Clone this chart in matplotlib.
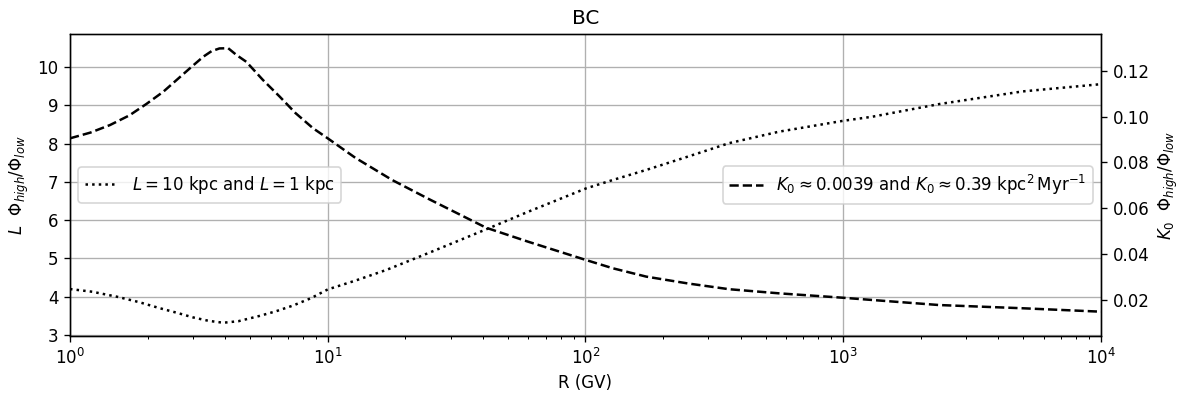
import numpy as np
import matplotlib
matplotlib.use('Agg')
import matplotlib.pyplot as plt

# rigidity points (GV)
R_L = [1.0, 1.22, 1.52, 1.85, 2.23, 2.6, 3.0, 3.45, 3.93, 4.5, 5.45, 6.3, 7.34, 8.6, 10.0,
       12.8, 16.9, 25, 41.2, 60, 100.7, 128, 172, 250, 361, 564, 993, 1297, 2355, 4955, 10000]
# Phi_high/Phi_low for L = 10 kpc vs 1 kpc (left axis)
ratio_L = [4.20, 4.13, 4.00, 3.86, 3.70, 3.58, 3.46, 3.37, 3.32, 3.36, 3.50, 3.62, 3.77, 3.96, 4.19,
           4.42, 4.70, 5.16, 5.76, 6.22, 6.83, 7.05, 7.31, 7.66, 8.01, 8.31, 8.59, 8.70, 9.03, 9.36, 9.55]

R_K = [1.0, 1.2, 1.43, 1.7, 1.98, 2.3, 2.59, 2.95, 3.29, 3.54, 3.8, 4.11, 4.43, 4.83, 5.6, 6.51,
       7.5, 8.77, 10.0, 12.8, 17.8, 25, 41.2, 60, 100.7, 128, 172, 250, 361, 564, 993, 1297,
       2355, 4955, 10000]
# Phi_high/Phi_low for the two K0 values (right axis)
ratio_K = [0.0905, 0.0930, 0.0963, 0.1005, 0.1055, 0.1108, 0.1159, 0.1215, 0.1261, 0.1285,
           0.1297, 0.1298, 0.1268, 0.1239, 0.1160, 0.1087, 0.1015, 0.0949, 0.0905, 0.0820,
           0.0723, 0.0637, 0.0515, 0.0454, 0.0374, 0.0338, 0.0302, 0.0272, 0.0247, 0.0229,
           0.0210, 0.0200, 0.0178, 0.0164, 0.0149]

fig, ax = plt.subplots(figsize=(1184 / 120, 399 / 120), dpi=120)
fig.subplots_adjust(left=0.0591, right=0.9299, top=0.9148, bottom=0.1579)

ax.plot(R_L, ratio_L, color='black', linestyle=':', label=r'$L = 10$ kpc and $L = 1$ kpc')
ax.set_xscale('log')
ax.set_xlim(1, 1e4)
ax.set_ylim(2.974, 10.86)
ax.grid(True, which='major', color='#b0b0b0')
ax.set_xlabel('R (GV)')
ax.set_ylabel(r'$L$  $\Phi_{high}/\Phi_{low}$')
ax.set_title('BC')
ax.legend(loc='center left')

ax2 = ax.twinx()
ax2.plot(R_K, ratio_K, color='black', linestyle='--',
         label=r'$K_0 \approx 0.0039$ and $K_0 \approx 0.39$ kpc$^2\,$Myr$^{-1}$')
ax2.set_ylim(0.0043, 0.136)
ax2.set_yticks([0.02, 0.04, 0.06, 0.08, 0.10, 0.12])
ax2.set_ylabel(r'$K_0$  $\Phi_{high}/\Phi_{low}$')
ax2.legend(loc='center right')

plt.savefig('out.png', dpi=120)
